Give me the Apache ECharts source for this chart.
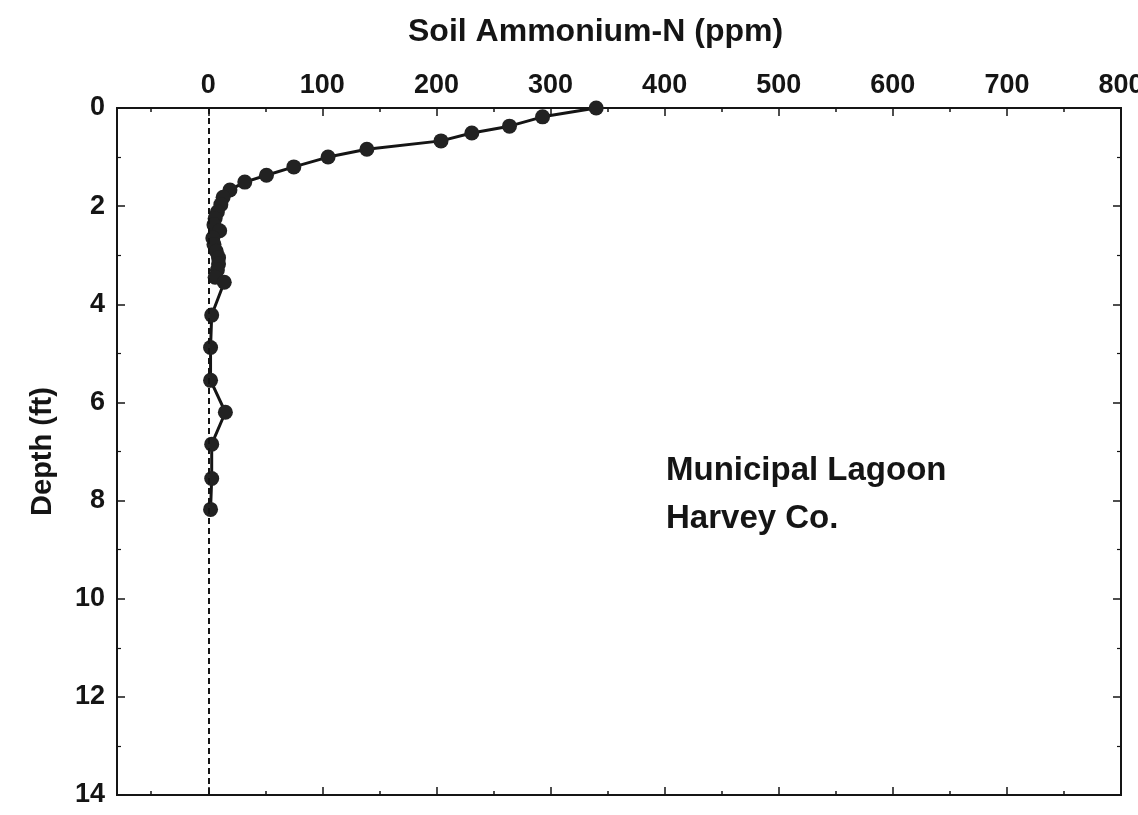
<!DOCTYPE html>
<html>
<head>
<meta charset="utf-8">
<script src="https://cdn.jsdelivr.net/npm/echarts@6/dist/echarts.min.js"></script>
<style>
  html, body { margin: 0; padding: 0; background: #fff; }
  #main { width: 1138px; height: 815px; }
</style>
</head>
<body>
<div id="main"></div>
<script>
// depth below surface (ft) and NH4-N (ppm)
var depth = [0, 0.18, 0.37, 0.51, 0.67, 0.84, 1.0, 1.2, 1.37, 1.51, 1.67, 1.82, 1.97, 2.12, 2.25, 2.38, 2.5, 2.65, 2.78, 2.92, 3.05, 3.18, 3.3, 3.45, 3.55, 4.22, 4.88, 5.55, 6.2, 6.85, 7.55, 8.18];
var ammonium = [340, 293, 264, 231, 204, 139, 105, 75, 51, 32, 19, 13, 11, 8, 6, 5, 10, 4, 5, 7, 9, 9, 8, 6, 14, 3, 2, 2, 15, 3, 3, 2];

var xLabels = [0, 100, 200, 300, 400, 500, 600, 700, 800];
var xMinor = [-50, 50, 150, 250, 350, 450, 550, 650, 750];

var points = depth.map(function (d, i) { return [ammonium[i], d]; });

var ink = '#151515';
var font = 'Liberation Sans, Arial, sans-serif';

function xAx(pos, ticks, len, labels) {
    return {
        type: 'value', position: pos, min: -80, max: 800,
        axisLine: { show: true, onZero: false, lineStyle: { color: ink, width: 2 } },
        axisTick: { show: true, inside: true, length: len, customValues: ticks, lineStyle: { color: ink, width: 1.5 } },
        axisLabel: labels ? {
            show: true, customValues: ticks, margin: 9,
            color: ink, fontSize: 27, fontWeight: 'bold', fontFamily: font
        } : { show: false },
        splitLine: { show: false }
    };
}

function yAx(pos, labels) {
    return {
        type: 'value', position: pos, inverse: true, min: 0, max: 14, interval: 2,
        axisLine: { show: true, onZero: false, lineStyle: { color: ink, width: 2 } },
        axisTick: { show: true, inside: true, length: 8, lineStyle: { color: ink, width: 1.5 } },
        minorTick: { show: true, splitNumber: 2, length: 4, lineStyle: { color: ink, width: 1.2 } },
        axisLabel: labels ? {
            show: true, margin: 12,
            color: ink, fontSize: 27, fontWeight: 'bold', fontFamily: font
        } : { show: false },
        splitLine: { show: false },
        minorSplitLine: { show: false },
        name: labels ? 'Depth (ft)' : '',
        nameLocation: 'middle', nameGap: 60, nameRotate: 90,
        nameTextStyle: { color: ink, fontSize: 29, fontWeight: 'bold', fontFamily: font }
    };
}

var chart = echarts.init(document.getElementById('main'));
chart.setOption({
    animation: false,
    backgroundColor: '#fff',
    title: {
        text: 'Soil Ammonium-N (ppm)',
        left: 403, top: 11,
        textStyle: { color: ink, fontSize: 32, fontWeight: 'bold', fontFamily: font }
    },
    grid: { left: 117, right: 17, top: 108, bottom: 20, outerBoundsMode: 'none', containLabel: false },
    xAxis: [
        xAx('top', xLabels, 8, true),
        xAx('top', xMinor, 4, false),
        xAx('bottom', xLabels, 8, false),
        xAx('bottom', xMinor, 4, false)
    ],
    yAxis: [yAx('left', true), yAx('right', false)],
    graphic: [{
        type: 'text', left: 666, top: 447,
        style: {
            text: 'Municipal Lagoon\nHarvey Co.',
            fill: ink, font: 'bold 33px ' + font, lineHeight: 48
        }
    }],
    series: [{
        type: 'line',
        data: points,
        xAxisIndex: 0, yAxisIndex: 0,
        symbol: 'circle', symbolSize: 15,
        itemStyle: { color: '#222' },
        lineStyle: { color: ink, width: 3 },
        markLine: {
            silent: true, symbol: 'none',
            label: { show: false },
            lineStyle: { color: ink, type: [6, 4], width: 2 },
            data: [{ xAxis: 0 }]
        },
        z: 3
    }]
});
</script>
</body>
</html>
